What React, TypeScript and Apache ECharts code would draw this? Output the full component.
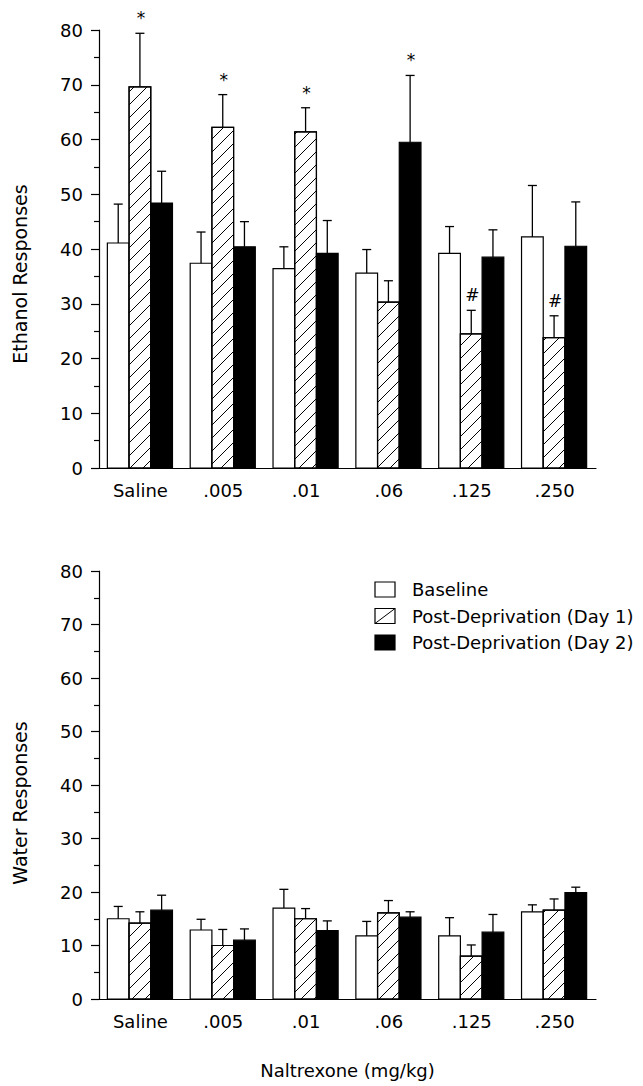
import React, { useEffect, useRef } from 'react';
import * as echarts from 'echarts';

const categories = ['Saline', '.005', '.01', '.06', '.125', '.250'];
const seriesNames = ['Baseline', 'Post-Deprivation (Day 1)', 'Post-Deprivation (Day 2)'];
const yTickMin = 0;
const yTickMax = 80;
const yTickInterval = 10;

// Ethanol responses (means and upper SEM)
const ethanolBaseline = [41.1, 37.4, 36.4, 35.6, 39.2, 42.2];
const ethanolBaselineErr = [7.1, 5.7, 4.0, 4.3, 4.9, 9.4];
const ethanolDay1 = [69.6, 62.2, 61.4, 30.3, 24.5, 23.8];
const ethanolDay1Err = [9.8, 6.0, 4.4, 3.9, 4.3, 4.0];
const ethanolDay2 = [48.4, 40.4, 39.2, 59.5, 38.5, 40.5];
const ethanolDay2Err = [5.8, 4.6, 6.0, 12.2, 5.0, 8.1];
const ethanolBaselineMarks = ['', '', '', '', '', ''];
const ethanolDay1Marks = ['*', '*', '*', '', '#', '#'];
const ethanolDay2Marks = ['', '', '', '*', '', ''];

// Water responses
const waterBaseline = [15.0, 12.9, 17.0, 11.8, 11.8, 16.3];
const waterBaselineErr = [2.3, 2.0, 3.5, 2.7, 3.4, 1.3];
const waterDay1 = [14.2, 10.0, 15.0, 16.1, 8.0, 16.6];
const waterDay1Err = [2.1, 3.0, 1.9, 2.3, 2.1, 2.1];
const waterDay2 = [16.6, 11.0, 12.8, 15.3, 12.5, 19.9];
const waterDay2Err = [2.8, 2.1, 1.8, 1.0, 3.3, 1.0];
const noMarks = ['', '', '', '', '', ''];

const FONT = 'DejaVu Sans';
const BAR_FRAC = 0.262;
const HATCH_STEP = 13;

function makeRenderer(kind: number, marks: string[]) {
  return (params: any, api: any) => {
    const idx = params.dataIndex;
    const cat = api.value(0);
    const val = api.value(1);
    const err = api.value(2);
    const base = api.coord([cat, 0]);
    const top = api.coord([cat, val]);
    const etop = api.coord([cat, val + err]);
    const band = api.size([1, 0])[0];
    const w = band * BAR_FRAC;
    const cx = base[0] + (kind - 1) * w - 0.5;
    const L = cx - w / 2;
    const R = cx + w / 2;
    const T = top[1];
    const B = base[1];
    const children: any[] = [];
    children.push({
      type: 'rect',
      shape: { x: L, y: T, width: w, height: B - T },
      style: { fill: kind === 2 ? '#000' : '#fff', stroke: '#000', lineWidth: 1.2 },
    });
    if (kind === 1) {
      const kStart = Math.ceil((L + T) / HATCH_STEP) * HATCH_STEP;
      for (let k = kStart; k <= R + B; k += HATCH_STEP) {
        const xs = Math.max(L, k - B);
        const xe = Math.min(R, k - T);
        if (xe - xs > 0.5) {
          children.push({
            type: 'line',
            shape: { x1: xs, y1: k - xs, x2: xe, y2: k - xe },
            style: { stroke: '#000', lineWidth: 1 },
          });
        }
      }
      children.push({
        type: 'rect',
        shape: { x: L, y: T, width: w, height: B - T },
        style: { fill: 'none', stroke: '#000', lineWidth: 1.2 },
      });
    }
    children.push({
      type: 'line',
      shape: { x1: cx, y1: T, x2: cx, y2: etop[1] },
      style: { stroke: '#000', lineWidth: 1.3 },
    });
    children.push({
      type: 'line',
      shape: { x1: cx - 4.5, y1: etop[1], x2: cx + 4.5, y2: etop[1] },
      style: { stroke: '#000', lineWidth: 1.3 },
    });
    const m = marks[idx];
    if (m) {
      children.push({
        type: 'text',
        x: cx + 1,
        y: etop[1] - 15,
        style: {
          text: m,
          fill: '#000',
          font: `17px "${FONT}"`,
          align: 'center',
          verticalAlign: 'middle',
        },
      });
    }
    return { type: 'group', children };
  };
}

function makeSeries(name: string, kind: number, vals: number[], errs: number[], marks: string[], gi: number) {
  return {
    type: 'custom',
    name,
    xAxisIndex: gi,
    yAxisIndex: gi,
    renderItem: makeRenderer(kind, marks),
    encode: { x: 0, y: [1] },
    data: vals.map((v, i) => [i, v, errs[i]]),
  };
}

function xAxisDef(gi: number, name?: string) {
  return {
    type: 'category',
    gridIndex: gi,
    data: categories,
    boundaryGap: true,
    axisLine: { lineStyle: { color: '#000', width: 1.2 } },
    axisTick: { alignWithLabel: true, length: 5, lineStyle: { color: '#000', width: 1.2 } },
    axisLabel: { color: '#000', fontFamily: FONT, fontSize: 18, margin: 13, interval: 0 },
    splitLine: { show: false },
    ...(name
      ? {
          name,
          nameLocation: 'middle',
          nameGap: 62,
          nameTextStyle: { color: '#000', fontFamily: FONT, fontSize: 18 },
        }
      : {}),
  };
}

function yAxisDef(gi: number) {
  return {
    type: 'value',
    gridIndex: gi,
    min: yTickMin,
    max: yTickMax,
    interval: yTickInterval,
    axisLine: { show: true, lineStyle: { color: '#000', width: 1.2 } },
    axisTick: { show: true, length: 8, lineStyle: { color: '#000', width: 1.2 } },
    minorTick: { show: true, splitNumber: 2, length: 5, lineStyle: { color: '#000', width: 1.2 } },
    axisLabel: { color: '#000', fontFamily: FONT, fontSize: 18, margin: 16 },
    splitLine: { show: false },
  };
}

const legendX = 375;
const legendRows = [582, 608.5, 635];

function legendGraphics() {
  const els: any[] = [];
  seriesNames.forEach((n, i) => {
    const y = legendRows[i];
    els.push({
      type: 'rect',
      shape: { x: legendX, y, width: 20, height: 15 },
      style: { fill: i === 2 ? '#000' : '#fff', stroke: '#000', lineWidth: 1.2 },
    });
    if (i === 1) {
      els.push({
        type: 'line',
        shape: { x1: legendX, y1: y + 15, x2: legendX + 20, y2: y },
        style: { stroke: '#000', lineWidth: 1 },
      });
    }
    els.push({
      type: 'text',
      x: 412,
      y: y + 7.5,
      style: { text: n, fill: '#000', font: `18px "${FONT}"`, verticalAlign: 'middle', align: 'left' },
    });
  });
  return els;
}

export default function App() {
  const ref = useRef<HTMLDivElement>(null);
  useEffect(() => {
    const chart = echarts.init(ref.current!, null, { renderer: 'svg' });
    const option: any = {
      animation: false,
      backgroundColor: '#fff',
      grid: [
        { left: 99, top: 30, width: 497, height: 438 },
        { left: 99, top: 571, width: 497, height: 428 },
      ],
      xAxis: [xAxisDef(0), xAxisDef(1, 'Naltrexone (mg/kg)')],
      yAxis: [yAxisDef(0), yAxisDef(1)],
      series: [
        makeSeries(seriesNames[0], 0, ethanolBaseline, ethanolBaselineErr, ethanolBaselineMarks, 0),
        makeSeries(seriesNames[1], 1, ethanolDay1, ethanolDay1Err, ethanolDay1Marks, 0),
        makeSeries(seriesNames[2], 2, ethanolDay2, ethanolDay2Err, ethanolDay2Marks, 0),
        makeSeries(seriesNames[0], 0, waterBaseline, waterBaselineErr, noMarks, 1),
        makeSeries(seriesNames[1], 1, waterDay1, waterDay1Err, noMarks, 1),
        makeSeries(seriesNames[2], 2, waterDay2, waterDay2Err, noMarks, 1),
      ],
      graphic: [
        {
          type: 'text',
          x: 20,
          y: 274,
          rotation: Math.PI / 2,
          style: { text: 'Ethanol Responses', fill: '#000', font: `19px "${FONT}"`, align: 'center', verticalAlign: 'middle' },
        },
        {
          type: 'text',
          x: 20,
          y: 803,
          rotation: Math.PI / 2,
          style: { text: 'Water Responses', fill: '#000', font: `19px "${FONT}"`, align: 'center', verticalAlign: 'middle' },
        },
        ...legendGraphics(),
      ],
    };
    chart.setOption(option);
    return () => chart.dispose();
  }, []);
  return <div ref={ref} style={{ position: 'absolute', left: 0, top: 0, width: 643, height: 1086 }} />;
}
